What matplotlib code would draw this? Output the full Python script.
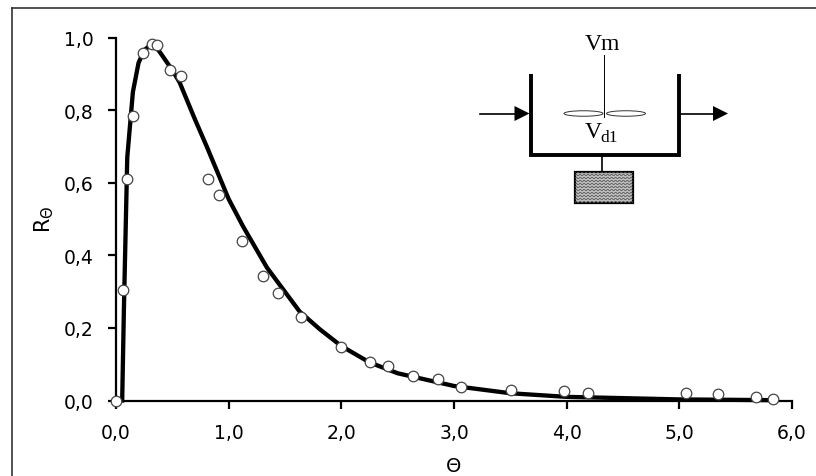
import numpy as np
import matplotlib
matplotlib.use("Agg")
import matplotlib.pyplot as plt
from matplotlib.patches import Ellipse, Rectangle

# Measured data (points)
theta_points = [0.0, 0.06, 0.10, 0.155, 0.24, 0.32, 0.36, 0.475, 0.575, 0.815, 0.915, 1.12,
                1.305, 1.44, 1.64, 2.0, 2.25, 2.41, 2.64, 2.86, 3.06, 3.51, 3.98, 4.19,
                5.06, 5.34, 5.68, 5.83]
r_points = [0.0, 0.305, 0.61, 0.785, 0.958, 0.983, 0.98, 0.91, 0.893, 0.61, 0.565, 0.44,
            0.342, 0.295, 0.23, 0.148, 0.107, 0.095, 0.068, 0.06, 0.038, 0.03, 0.026, 0.02,
            0.02, 0.018, 0.01, 0.005]

# Model curve
theta_curve = [0.055, 0.07, 0.10, 0.15, 0.20, 0.25, 0.33, 0.40, 0.50, 0.565, 0.70, 0.805,
               1.0, 1.127, 1.34, 1.63, 1.81, 2.0, 2.25, 2.5, 3.0, 3.5, 4.0, 5.0, 5.8]
r_curve = [0.0, 0.25, 0.67, 0.85, 0.93, 0.965, 0.985, 0.955, 0.91, 0.876, 0.775, 0.70,
           0.555, 0.48, 0.366, 0.245, 0.196, 0.15, 0.105, 0.075, 0.04, 0.02, 0.01, 0.003, 0.001]

x_ticks = [0, 1, 2, 3, 4, 5, 6]
y_ticks = [0.0, 0.2, 0.4, 0.6, 0.8, 1.0]
comma = lambda v: f"{v:.1f}".replace(".", ",")

W, H = 816, 477
plt.rcParams["mathtext.fontset"] = "dejavusans"
fig = plt.figure(figsize=(W / 100, H / 100), dpi=100, facecolor="white")

# Overlay in pixel coordinates for the frame and schematic
ov = fig.add_axes([0, 0, 1, 1], zorder=3)
ov.set_xlim(0, W)
ov.set_ylim(H, 0)
ov.axis("off")
ov.patch.set_alpha(0)

ax = fig.add_axes([116 / W, 1 - 401.5 / H, (792 - 116) / W, 363 / H], zorder=2)
ax.set_xlim(0, 6)
ax.set_ylim(0, 1)
ax.patch.set_alpha(0)
for s in ("top", "right"):
    ax.spines[s].set_visible(False)
for s in ("left", "bottom"):
    ax.spines[s].set_linewidth(1.6)
ax.set_xticks(x_ticks, [comma(v) for v in x_ticks])
ax.set_yticks(y_ticks, [comma(v) for v in y_ticks])
ax.tick_params(length=5.5, width=1.6, labelsize=13.5, pad=10.5, color="black")
ax.plot(theta_curve, r_curve, color="black", lw=3.1, solid_joinstyle="round", zorder=3, clip_on=False)
ax.plot(theta_points, r_points, ls="none", marker="o", ms=7.6, mfc="white", mec="#444444", mew=0.9,
        zorder=4, clip_on=False)
ax.set_xlabel("Θ", fontsize=14)
ax.xaxis.set_label_coords(0.5, -0.152)
fig.text(44 / W, 1 - 219.5 / H, r"R$_{\mathrm{\Theta}}$", rotation=90, fontsize=15, ha="center", va="center")

# Outer frame: top and left only
ov.plot([12, W], [8.5, 8.5], color="#333333", lw=1.2)
ov.plot([12, 12], [8.5, H], color="#333333", lw=1.2)

# Schematic
ov.plot([531, 531, 679, 679], [75, 155.5, 155.5, 75], color="black", lw=2.8,
        solid_joinstyle="miter", solid_capstyle="butt")
ov.plot([603.5, 603.5], [56, 118], color="black", lw=0.7)
ov.plot([602, 602], [155, 172], color="black", lw=1.2)
ov.add_patch(Ellipse((583.5, 114.5), 39, 5.5, fc="white", ec="#333333", lw=0.7))
ov.add_patch(Ellipse((626, 114.5), 39, 5.5, fc="white", ec="#333333", lw=0.7))
for x0, x1 in ((480, 529.5), (681, 728)):
    ov.plot([x0, x1 - 12], [114.5, 114.5], color="black", lw=1.2)
    ov.fill([x1 - 15, x1, x1 - 15], [107, 114.5, 122], color="black", lw=0)

box = Rectangle((574.5, 172.5), 58, 31.5, fc="#c4c4c4", ec="none")
ov.add_patch(box)
wx = np.linspace(574.5, 632.5, 120)
for wy in np.arange(173, 205, 3.0):
    line, = ov.plot(wx, wy + 0.8 * np.sin(wx * 1.6), color="#555555", lw=0.6)
    line.set_clip_path(box)
ov.add_patch(Rectangle((574.5, 172.5), 58, 31.5, fc="none", ec="black", lw=1.6))

serif = "Liberation Serif"
ov.text(602.5, 44, "Vm", family=serif, fontsize=17, ha="center", va="center")
ov.text(585, 133, "V", family=serif, fontsize=17, ha="left", va="center")
ov.text(600, 138, "d1", family=serif, fontsize=12.5, ha="left", va="center")

fig.savefig("out.png", dpi=100, facecolor="white")
